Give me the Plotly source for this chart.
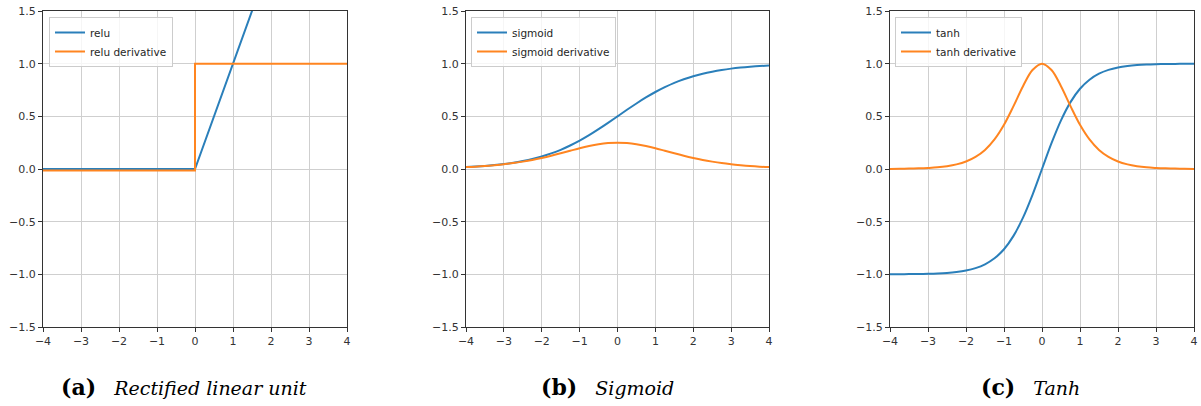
import plotly.graph_objects as go

# ---- data ----
relu_x = [-4, 0, 4]
relu_y = [0, 0, 4]
relu_d_x = [-4, 0, 0, 4]
relu_d_y = [-0.015, -0.015, 1, 1]

xs = [-4, -3.75, -3.5, -3.25, -3, -2.75, -2.5, -2.25, -2, -1.75, -1.5, -1.25, -1,
      -0.75, -0.5, -0.25, 0, 0.25, 0.5, 0.75, 1, 1.25, 1.5, 1.75, 2, 2.25, 2.5,
      2.75, 3, 3.25, 3.5, 3.75, 4]

sigmoid_y = [0.018, 0.023, 0.029, 0.037, 0.047, 0.060, 0.076, 0.095, 0.119, 0.148,
             0.182, 0.223, 0.269, 0.321, 0.378, 0.438, 0.500, 0.562, 0.622, 0.679,
             0.731, 0.777, 0.818, 0.852, 0.881, 0.905, 0.924, 0.940, 0.953, 0.963,
             0.971, 0.977, 0.982]
sigmoid_d_y = [0.018, 0.022, 0.028, 0.036, 0.045, 0.056, 0.070, 0.086, 0.105, 0.126,
               0.149, 0.173, 0.197, 0.218, 0.235, 0.246, 0.250, 0.246, 0.235, 0.218,
               0.197, 0.173, 0.149, 0.126, 0.105, 0.086, 0.070, 0.056, 0.045, 0.036,
               0.028, 0.022, 0.018]
tanh_y = [-0.999, -0.999, -0.998, -0.997, -0.995, -0.992, -0.987, -0.978, -0.964,
          -0.941, -0.905, -0.848, -0.762, -0.635, -0.462, -0.245, 0.0, 0.245, 0.462,
          0.635, 0.762, 0.848, 0.905, 0.941, 0.964, 0.978, 0.987, 0.992, 0.995, 0.997,
          0.998, 0.999, 0.999]
tanh_d_y = [0.001, 0.002, 0.004, 0.006, 0.010, 0.016, 0.027, 0.044, 0.071, 0.115,
            0.181, 0.281, 0.420, 0.597, 0.786, 0.940, 1.000, 0.940, 0.786, 0.597,
            0.420, 0.281, 0.181, 0.115, 0.071, 0.044, 0.027, 0.016, 0.010, 0.006,
            0.004, 0.002, 0.001]

panel_names = ["relu", "sigmoid", "tanh"]
captions = [("(a)", "Rectified linear unit"), ("(b)", "Sigmoid"), ("(c)", "Tanh")]
x_ticks = [-4, -3, -2, -1, 0, 1, 2, 3, 4]
y_ticks = [-1.5, -1.0, -0.5, 0.0, 0.5, 1.0, 1.5]

BLUE = "#2a7fba"
ORANGE = "#ff8520"
W, H = 1201, 406

# pixel layout
x_dom_px = [(43, 347), (466, 769), (890, 1194)]
y_dom_px = (11, 327)
legend_px = [(49, 17), (471, 17), (895, 17)]
caption_cx = [184, 607, 1030]
caption_cy = 387

series = [
    ((relu_x, relu_y, "linear"), (relu_d_x, relu_d_y, "linear")),
    ((xs, sigmoid_y, "spline"), (xs, sigmoid_d_y, "spline")),
    ((xs, tanh_y, "spline"), (xs, tanh_d_y, "spline")),
]

fig = go.Figure()
layout = dict(
    width=W, height=H, margin=dict(l=0, r=0, t=0, b=0, autoexpand=False),
    paper_bgcolor="white", plot_bgcolor="white", showlegend=True,
    font=dict(family="DejaVu Sans", size=11, color="#262626"),
)

annotations = []
for i in range(3):
    sfx = "" if i == 0 else str(i + 1)
    leg = "legend" if i == 0 else "legend" + str(i + 1)
    (ax, ay, ash), (bx, by, bsh) = series[i]
    name = panel_names[i]
    fig.add_trace(go.Scatter(x=ax, y=ay, mode="lines", name=name,
                             line=dict(color=BLUE, width=2, shape=ash),
                             xaxis="x" + sfx, yaxis="y" + sfx, legend=leg))
    fig.add_trace(go.Scatter(x=bx, y=by, mode="lines", name=name + " derivative",
                             line=dict(color=ORANGE, width=2, shape=bsh),
                             xaxis="x" + sfx, yaxis="y" + sfx, legend=leg))
    x0, x1 = x_dom_px[i]
    axis_common = dict(showgrid=True, gridcolor="#cfcfcf", gridwidth=1,
                       zeroline=False, showline=True, linecolor="#333333",
                       linewidth=1, mirror=True, ticks="outside", ticklen=4,
                       tickcolor="#333333", automargin=False,
                       tickfont=dict(size=11, color="#333333"))
    layout["xaxis" + sfx] = dict(domain=[x0 / W, x1 / W], range=[-4, 4],
                                 tickvals=x_ticks, anchor="y" + sfx, **axis_common)
    layout["yaxis" + sfx] = dict(domain=[(H - y_dom_px[1]) / H, (H - y_dom_px[0]) / H],
                                 range=[-1.5, 1.5], tickvals=y_ticks, tickformat=".1f",
                                 anchor="x" + sfx, **axis_common)
    lx, ly = legend_px[i]
    layout[leg] = dict(x=lx / W, y=(H - ly) / H, xref="paper", yref="paper",
                       xanchor="left", yanchor="top",
                       bgcolor="rgba(255,255,255,0.8)", bordercolor="#cccccc",
                       borderwidth=1, font=dict(size=10.5, color="#262626"),
                       tracegroupgap=0)
    lab, txt = captions[i]
    annotations.append(dict(
        x=caption_cx[i] / W, y=(H - caption_cy) / H, xref="paper", yref="paper",
        xanchor="center", yanchor="middle", showarrow=False,
        text="<span style='font-size:22px'><b>" + lab + "</b></span>&nbsp;&nbsp;&nbsp;<i>" + txt + "</i>",
        font=dict(family="DejaVu Serif", size=19, color="black")))

layout["annotations"] = annotations
fig.update_layout(**layout)
fig.write_html("out.html")
